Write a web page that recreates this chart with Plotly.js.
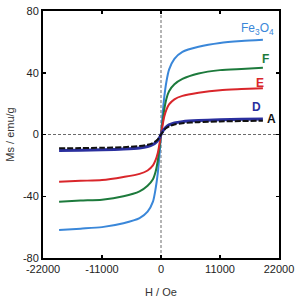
<!DOCTYPE html>
<html>
<head>
<meta charset="utf-8">
<script src="https://cdn.plot.ly/plotly-3.0.1.min.js"></script>
<style>html,body{margin:0;padding:0;background:#fff;}#chart{width:301px;height:304px;}</style>
</head>
<body>
<div id="chart"></div>
<script>
const H = [-19000,-15000,-11000,-7000,-4000,-2500,-1500,-1000,-600,-300,0,300,600,1000,1500,2500,4000,7000,11000,15000,19000];
const msFe3O4 = [-61.9,-61.0,-60.0,-57.5,-54.2,-50,-43.5,-35,-25,-14,0,13,24,34,42,49,53.5,56.8,59.3,60.5,61.3];
const msF = [-43.6,-42.8,-42.2,-40,-36.8,-33.2,-29,-24,-17,-9,0,8,16,23,28,32.5,36,39.5,41.7,42.5,43.2];
const msE = [-30.6,-30,-29.5,-27.5,-25.5,-23.3,-20,-16.5,-12,-6.5,0,6,11.5,16,19.5,22.8,25,27,28.7,29.4,30];
const msD = [-10.4,-10.2,-9.9,-9.4,-8.7,-7.8,-6.5,-5.3,-3.8,-2.2,0,2,3.5,5,6.2,7.5,8.3,9,9.5,9.8,10];
const msA = [-8.9,-8.8,-8.6,-8.2,-7.5,-6.7,-5.5,-4.4,-3.2,-1.7,0,1.5,3,4.2,5.3,6.5,7.3,8,8.5,8.7,8.9];
const xTicks = [-22000,-11000,0,11000,22000];
const yTicks = [-80,-40,0,40,80];

const C = {fe:'#3a87d9', F:'#1d7a3c', E:'#d9262b', D:'#2a2f9e', A:'#111111'};
const FONT = 'Liberation Sans, Arial, sans-serif';

function tr(y, color, width, dash){
  return {x:H, y:y, type:'scatter', mode:'lines', hoverinfo:'skip',
    line:{color:color, width:width, dash:dash||'solid', shape:'spline', smoothing:0.7}};
}
const data = [
  tr(msFe3O4, C.fe, 2),
  tr(msF, C.F, 2),
  tr(msE, C.E, 2),
  tr(msD, C.D, 3),
  tr(msA, C.A, 2, '6px,2px')
];

const axisCommon = {showgrid:false, zeroline:false, showline:true, linecolor:'#000', linewidth:2,
  mirror:'ticks', ticks:'inside', ticklen:3, tickwidth:1.5, tickcolor:'#000',
  tickfont:{family:FONT, size:11, color:'#222'}};

const layout = {
  width:301, height:304,
  margin:{l:43, r:22, t:11, b:46},
  paper_bgcolor:'#fff', plot_bgcolor:'#fff',
  showlegend:false,
  xaxis:Object.assign({}, axisCommon, {range:[-22000,22000], tickvals:xTicks, ticktext:xTicks.map(String),
    title:{text:'H / Oe', font:{family:FONT, size:11, color:'#333'}, standoff:14}}),
  yaxis:Object.assign({}, axisCommon, {range:[-80,80], tickvals:yTicks, ticktext:yTicks.map(String),
    title:{text:'Ms / emu/g', font:{family:FONT, size:11, color:'#333'}, standoff:6}}),
  shapes:[
    {type:'line', xref:'x', yref:'y', x0:0, x1:0, y0:-80, y1:80, line:{color:'#444', width:0.8, dash:'3px,2px'}, layer:'below'},
    {type:'line', xref:'x', yref:'y', x0:-22000, x1:22000, y0:0, y1:0, line:{color:'#444', width:0.8, dash:'3px,2px'}, layer:'below'}
  ],
  annotations:[
    {xref:'paper', yref:'paper', x:(257-43)/236, y:(258-29)/247, yanchor:'middle', xanchor:'center', text:'Fe<sub>3</sub>O<sub>4</sub>', showarrow:false,
      font:{family:FONT, size:12, color:C.fe}},
    {xref:'paper', yref:'paper', x:(265.5-43)/236, y:(258-59)/247, yanchor:'middle', xanchor:'center', text:'<b>F</b>', showarrow:false,
      font:{family:FONT, size:12, color:C.F}},
    {xref:'paper', yref:'paper', x:(259.7-43)/236, y:(258-83)/247, yanchor:'middle', xanchor:'center', text:'<b>E</b>', showarrow:false,
      font:{family:FONT, size:12, color:C.E}},
    {xref:'paper', yref:'paper', x:(256.5-43)/236, y:(258-107)/247, yanchor:'middle', xanchor:'center', text:'<b>D</b>', showarrow:false,
      font:{family:FONT, size:12, color:C.D}},
    {xref:'paper', yref:'paper', x:(271.5-43)/236, y:(258-118.5)/247, yanchor:'middle', xanchor:'center', text:'<b>A</b>', showarrow:false,
      font:{family:FONT, size:12, color:C.A}}
  ]
};
Plotly.newPlot('chart', data, layout, {staticPlot:true, displayModeBar:false});
</script>
</body>
</html>
